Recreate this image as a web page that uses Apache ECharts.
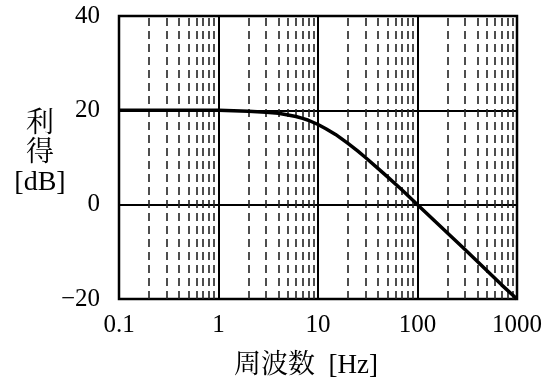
<!DOCTYPE html>
<html>
<head>
<meta charset="utf-8">
<script src="https://cdn.jsdelivr.net/npm/echarts@6/dist/echarts.min.js"></script>
<style>
html,body{margin:0;padding:0;background:#fff;}
#c{width:547px;height:387px;}
</style>
</head>
<body>
<div id="c"></div>
<script>
// Frequency response
var freqHz = [0.1, 0.5, 1, 2, 3, 4, 5, 6, 7, 8, 10, 12, 15, 20, 25, 30, 40, 50, 70, 100, 150, 200, 300, 500, 700, 1000];
var gainDb = [20, 20, 20, 19.8, 19.6, 19.4, 19.0, 18.7, 18.3, 17.9, 17.0, 16.1, 14.9, 13.0, 11.4, 10.0, 7.7, 5.9, 3.1, 0, -3.5, -6, -9.5, -14, -17, -20];
// Minor (dashed) grid frequencies
var minorFreqs = [0.2,0.3,0.4,0.5,0.6,0.7,0.8,0.9, 2,3,4,5,6,7,8,9, 20,30,40,50,60,70,80,90, 200,300,400,500,600,700,800,900];
// Tick labels
var xTickLabels = {0.1: '0.1', 1: '1', 10: '10', 100: '100', 1000: '1000'};
var yTickLabels = {'-20': '\u221220', '0': '0', '20': '20', '40': '40'};
var yName = '利\n得\n[dB]';
var xName = '周波数\u2002[Hz]';

var serif = "'Liberation Serif', 'Noto Serif CJK JP', 'Noto Sans CJK JP', serif";
var chart = echarts.init(document.getElementById('c'), null, {renderer: 'canvas'});
chart.setOption({
  animation: false,
  backgroundColor: '#fff',
  grid: {left: 119, top: 16, right: 30, bottom: 88, show: true, borderColor: '#000', borderWidth: 2.5, backgroundColor: 'transparent'},
  xAxis: {
    type: 'log', logBase: 10, min: 0.1, max: 1000,
    axisLine: {show: false}, axisTick: {show: false},
    splitLine: {show: true, lineStyle: {color: '#000', width: 2}},
    axisLabel: {margin: 14, color: '#000', fontSize: 25, fontFamily: serif,
      formatter: function (v) { var k = Math.round(Math.log10(v)); return xTickLabels[Math.pow(10, k)] || ''; }}
  },
  yAxis: {
    type: 'value', min: -20, max: 40, interval: 20,
    axisLine: {show: false}, axisTick: {show: false},
    splitLine: {show: true, lineStyle: {color: '#000', width: 2}},
    axisLabel: {margin: 19, color: '#000', fontSize: 25, fontFamily: serif,
      formatter: function (v) { return yTickLabels[String(v)] || ''; }}
  },
  graphic: [
    {type: 'text', left: 8, top: 110, style: {text: yName, font: '28px ' + serif, fill: '#000', lineHeight: 29, textAlign: 'center', width: 64}, z: 10},
    {type: 'text', left: 234, top: 352, style: {text: xName, font: '27px ' + serif, fill: '#000'}, z: 10}
  ],
  series: [{
    type: 'line',
    data: freqHz.map(function (f, i) { return [f, gainDb[i]]; }),
    showSymbol: false,
    smooth: false,
    lineStyle: {color: '#000', width: 3.5, join: 'round'},
    z: 5,
    markLine: {
      silent: true, symbol: 'none', label: {show: false},
      lineStyle: {color: '#222', width: 1.6, type: [8, 5]},
      data: minorFreqs.map(function (f) { return {xAxis: f}; }),
      z: 1
    }
  }]
});
</script>
</body>
</html>
